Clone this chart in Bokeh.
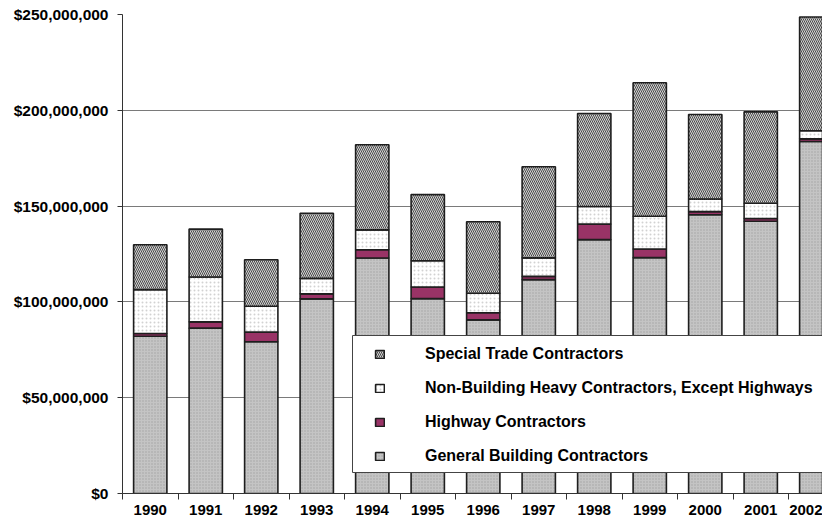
from bokeh.plotting import figure
from bokeh.models import (ColumnDataSource, Range1d, FixedTicker, NumeralTickFormatter,
                          Legend, LegendItem, BoxAnnotation)
from bokeh.transform import stack
from bokeh.embed import file_html
from bokeh.resources import INLINE

years = ["1990", "1991", "1992", "1993", "1994", "1995", "1996",
         "1997", "1998", "1999", "2000", "2001", "2002"]
# values in millions of dollars
general = [82.1, 86.3, 79.2, 101.6, 122.9, 101.7, 90.6, 111.6, 132.5, 123.1, 145.5, 142.1, 183.7]
highway = [1.4, 3.3, 5.0, 2.6, 4.3, 6.1, 3.7, 1.7, 8.1, 4.5, 1.6, 1.4, 1.4]
nonbuilding = [22.9, 23.4, 13.5, 8.1, 10.4, 13.7, 10.2, 9.7, 9.2, 17.1, 6.6, 8.0, 4.2]
special = [23.4, 25.0, 24.3, 34.0, 44.4, 34.5, 37.3, 47.5, 48.5, 69.7, 44.1, 47.7, 59.4]

series = ["general", "highway", "nonbuilding", "special"]
labels = ["General Building Contractors", "Highway Contractors",
          "Non-Building Heavy Contractors, Except Highways", "Special Trade Contractors"]

src = ColumnDataSource(dict(
    x=list(range(len(years))),
    general=[v * 1e6 for v in general],
    highway=[v * 1e6 for v in highway],
    nonbuilding=[v * 1e6 for v in nonbuilding],
    special=[v * 1e6 for v in special],
))

FONT = "Liberation Sans"
W, H = 822, 521
LEFT = 122
TOP = 14
BOTTOM = 28
cat_px = 55.5
x_end = -0.5 + (W - LEFT) / cat_px

p = figure(width=W, height=H, output_backend="svg", toolbar_location=None,
           x_range=Range1d(-0.5, x_end), y_range=Range1d(0, 250e6),
           min_border_left=LEFT, min_border_right=0, min_border_top=TOP,
           min_border_bottom=BOTTOM)
p.outline_line_color = None
p.background_fill_color = "white"
p.border_fill_color = "white"

styles = [
    dict(fill_color="#c4c4c4", hatch_pattern="dot", hatch_color="#a2a2a2", hatch_scale=3, hatch_weight=1),
    dict(fill_color="#993366"),
    dict(fill_color="#ffffff", hatch_pattern="dot", hatch_color="#d2d2d2", hatch_scale=4, hatch_weight=1),
    dict(fill_color="#d4d4d4", hatch_pattern="left_diagonal_line", hatch_color="#4a4a4a", hatch_scale=4, hatch_weight=1),
]

renderers = []
bottom_cols = []
for name, st in zip(series, styles):
    bot = stack(*bottom_cols) if bottom_cols else 0
    top = stack(*(bottom_cols + [name]))
    r = p.vbar(x="x", width=0.6, bottom=bot, top=top, source=src,
               line_color="#1e1e1e", line_width=1.6, **st)
    renderers.append(r)
    bottom_cols.append(name)

# axes
p.yaxis.ticker = FixedTicker(ticks=[0, 50e6, 100e6, 150e6, 200e6, 250e6])
p.yaxis.formatter = NumeralTickFormatter(format="$0,0")
p.yaxis.major_label_text_font = FONT
p.yaxis.major_label_text_font_style = "bold"
p.yaxis.major_label_text_font_size = "15.5px"
p.yaxis.major_label_text_color = "black"
p.yaxis.major_tick_out = 5
p.yaxis.major_tick_in = 0
p.yaxis.minor_tick_line_color = None
p.yaxis.axis_line_color = "#333333"
p.yaxis.major_tick_line_color = "#333333"
p.yaxis.major_label_standoff = 9

p.xaxis.ticker = FixedTicker(ticks=list(range(len(years))),
                             minor_ticks=[i - 0.5 for i in range(len(years) + 1)])
p.xaxis.major_label_overrides = {i: y for i, y in enumerate(years)}
p.xaxis.major_label_text_font = FONT
p.xaxis.major_label_text_font_style = "bold"
p.xaxis.major_label_text_font_size = "15px"
p.xaxis.major_label_text_color = "black"
p.xaxis.major_tick_line_color = None
p.xaxis.major_tick_out = 6
p.xaxis.major_tick_in = 0
p.xaxis.minor_tick_out = 6
p.xaxis.minor_tick_in = 0
p.xaxis.minor_tick_line_color = "#333333"
p.xaxis.axis_line_color = "#333333"
p.xaxis.major_label_standoff = 5

p.xgrid.grid_line_color = None
p.ygrid.grid_line_color = "#7a7a7a"
p.ygrid.grid_line_width = 1

# legend box
box = BoxAnnotation(left=352, right=840, top=335, bottom=472,
                    left_units="canvas", right_units="canvas",
                    top_units="canvas", bottom_units="canvas",
                    fill_color="white", fill_alpha=1.0,
                    line_color="#444444", line_width=1, line_alpha=1.0)
p.add_layout(box)

items = [LegendItem(label=labels[i], renderers=[renderers[i]]) for i in [3, 2, 1, 0]]
legend = Legend(items=items, location=(374 - LEFT, 28), padding=0, margin=0,
                border_line_color=None, background_fill_alpha=0.0,
                glyph_width=11, glyph_height=10, label_height=18, spacing=16,
                label_standoff=40,
                label_text_font=FONT, label_text_font_style="bold",
                label_text_font_size="16px", label_text_color="black")
p.add_layout(legend, "center")

open("out.html", "w").write(file_html(p, INLINE))
